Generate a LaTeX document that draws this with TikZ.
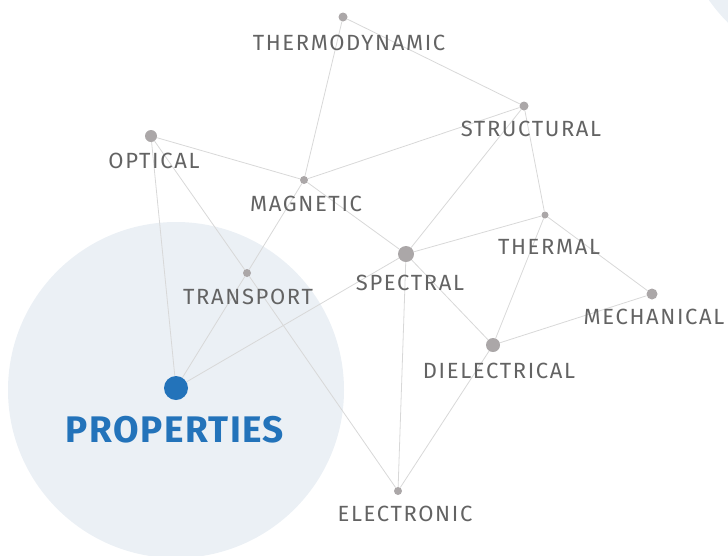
\documentclass[tikz,border=0pt]{standalone}
\usepackage{fontspec}
\newfontfamily\lblfont{Fira Sans}[LetterSpace=7.5]
\newfontfamily\propfont{Fira Sans}[LetterSpace=4]
\definecolor{dotgray}{HTML}{ABA7A8}
\definecolor{linegray}{HTML}{D8D8D8}
\definecolor{txtgray}{HTML}{636363}
\definecolor{propblue}{HTML}{2373BA}
\definecolor{haze}{HTML}{EBF0F5}
\pgfdeclarelayer{bg}
\pgfsetlayers{bg,main}

\begin{document}
\begin{tikzpicture}[x=1pt,y=-1pt,
    dot/.style={circle,fill=dotgray,inner sep=0pt,minimum size=#1},
    lbl/.style={text=txtgray,inner sep=0pt,font=\lblfont\fontsize{22}{22}\selectfont},
    link/.style={draw=linegray,line width=0.8pt}]
			\useasboundingbox (0,0) rectangle (728,555);
			\clip (0,0) rectangle (728,555);
			% dots
			\node[dot=9pt]  (thermo)     at (343,17)  {};
			\node[dot=9pt]  (structural) at (524,106) {};
			\node[dot=12pt] (optical)    at (151,136) {};
			\node[dot=8pt]  (magnetic)   at (304,180) {};
			\node[dot=16pt] (spectral)   at (406,254) {};
			\node[dot=7pt]  (thermal)    at (545,215) {};
			\node[dot=8pt]  (transport)  at (247,273) {};
			\node[dot=11pt] (mechanical) at (652,294) {};
			\node[dot=14pt] (dielectric) at (493,345) {};
			\node[dot=8pt]  (electronic) at (398,491) {};
			\node[circle,fill=propblue,inner sep=0pt,minimum size=24pt] (prop) at (176,388) {};
			% node labels
			\node[lbl] (thermo-l)     at (349,43)  {THERMODYNAMIC};
			\node[lbl] (structural-l) at (531,129) {STRUCTURAL};
			\node[lbl] (optical-l)    at (154,161) {OPTICAL};
			\node[lbl] (magnetic-l)   at (306,204) {MAGNETIC};
			\node[lbl] (spectral-l)   at (410,283) {SPECTRAL};
			\node[lbl] (thermal-l)    at (549,247) {THERMAL};
			\node[lbl] (transport-l)  at (248,297) {TRANSPORT};
			\node[lbl] (mechanical-l) at (654,317) {MECHANICAL};
			\node[lbl] (dielectric-l) at (499,371) {DIELECTRICAL};
			\node[lbl] (electronic-l) at (405,514) {ELECTRONIC};
			\node[text=propblue,inner sep=0pt,font=\propfont\bfseries\fontsize{37}{37}\selectfont] (prop-l) at (175,430) {PROPERTIES};
			\begin{pgfonlayer}{bg}
			% backdrop circles
			\fill[haze] (176,390) circle (168);
			\fill[haze] (845,-95) circle (166);
			% links
			\draw[link] (thermo) -- (structural);
			\draw[link] (thermo) -- (magnetic);
			\draw[link] (optical) -- (magnetic);
			\draw[link] (magnetic) -- (structural);
			\draw[link] (structural) -- (spectral);
			\draw[link] (structural) -- (thermal);
			\draw[link] (magnetic) -- (spectral);
			\draw[link] (magnetic) -- (transport);
			\draw[link] (optical) -- (transport);
			\draw[link] (optical) -- (prop);
			\draw[link] (transport) -- (prop);
			\draw[link] (transport) -- (electronic);
			\draw[link] (spectral) -- (prop);
			\draw[link] (spectral) -- (thermal);
			\draw[link] (spectral) -- (dielectric);
			\draw[link] (spectral) -- (electronic);
			\draw[link] (thermal) -- (dielectric);
			\draw[link] (thermal) -- (mechanical);
			\draw[link] (dielectric) -- (mechanical);
			\draw[link] (dielectric) -- (electronic);
			\end{pgfonlayer}
		\end{tikzpicture}
\end{document}
